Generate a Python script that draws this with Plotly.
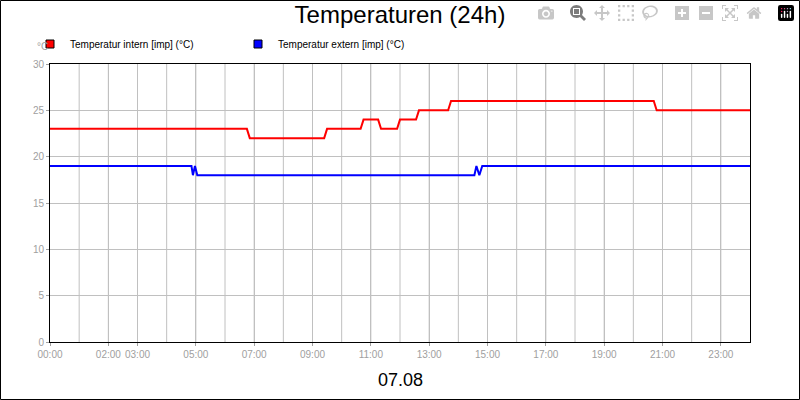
import plotly.graph_objects as go

hours_in = [0, 6.75, 6.85, 9.4, 9.5, 10.65, 10.75, 11.25, 11.35, 11.9, 12.0, 12.55, 12.65, 13.65, 13.75, 20.7, 20.8, 24]
temp_in = [23, 23, 22, 22, 23, 23, 24, 24, 23, 23, 24, 24, 25, 25, 26, 26, 25, 25]
hours_ex = [0, 4.85, 4.9, 4.97, 5.05, 14.55, 14.62, 14.72, 14.82, 24]
temp_ex = [19, 19, 18, 19, 18, 18, 19, 18, 19, 19]
tick_vals = [0, 2, 3, 5, 7, 9, 11, 13, 15, 17, 19, 21, 23]
tick_text = ["00:00", "02:00", "03:00", "05:00", "07:00", "09:00", "11:00", "13:00", "15:00", "17:00", "19:00", "21:00", "23:00"]
names = ["Temperatur intern [imp] (°C)", "Temperatur extern [imp] (°C)"]
colors = ["#ff0000", "#0000ff"]

fig = go.Figure()
for x, y, n, c in [(hours_in, temp_in, names[0], colors[0]), (hours_ex, temp_ex, names[1], colors[1])]:
    fig.add_trace(go.Scatter(x=x, y=y, mode="lines", line=dict(color=c, width=2), showlegend=False, name=n))
for n, c in zip(names, colors):
    fig.add_trace(go.Scatter(x=[None], y=[None], mode="markers", name=n,
                             marker=dict(symbol="square", size=8, color=c, line=dict(color="black", width=1))))

W, H = 700, 278
fig.update_layout(
    width=800, height=400, margin=dict(l=50, r=50, t=64, b=58),
    paper_bgcolor="white", plot_bgcolor="white",
    font=dict(family="Liberation Sans, Arial", size=10, color="black"),
    title=dict(text="Temperaturen (24h)", x=0.5, xanchor="center", y=0.985, yanchor="top",
               font=dict(size=24, color="black")),
    legend=dict(orientation="h", x=-20 / W, y=1 + 20 / H, xanchor="left", yanchor="middle",
                font=dict(size=10), itemwidth=30, entrywidth=163, entrywidthmode="pixels"),
    xaxis=dict(range=[0, 24], tickvals=tick_vals, ticktext=tick_text, showgrid=True,
               gridcolor="#c0c0c0", tickfont=dict(color="#a0a0a0", size=10),
               showline=True, linecolor="black", mirror=True, zeroline=False,
               ticks="outside", ticklen=3, tickcolor="#a0a0a0"),
    yaxis=dict(range=[0, 30], dtick=5, showgrid=True, gridcolor="#c0c0c0",
               tickfont=dict(color="#a0a0a0", size=10), showline=True, linecolor="black",
               mirror=True, zeroline=False, ticks="outside", ticklen=3, tickcolor="#a0a0a0"),
    shapes=[dict(type="rect", xref="paper", yref="paper", x0=-49.5 / W, x1=1 + 49.5 / W,
                 y0=-57.5 / H, y1=1 + 63.5 / H, line=dict(color="black", width=1))]
    + [dict(type="line", xref="x", yref="paper", x0=h, x1=h, y0=0, y1=1,
            line=dict(color="#c0c0c0", width=1), layer="below") for h in range(1, 24)],
    annotations=[
        dict(text="07.08", xref="paper", yref="paper", x=0.5, y=-38 / H, showarrow=False,
             font=dict(size=18), xanchor="center", yanchor="middle"),
        dict(text="°C", xref="paper", yref="paper", x=-8 / W, y=1 + 17 / H, showarrow=False,
             font=dict(size=10, color="#a0a0a0"), xanchor="center", yanchor="middle"),
    ],
)
fig.write_html("out.html", post_script="document.body.style.margin='0';")
